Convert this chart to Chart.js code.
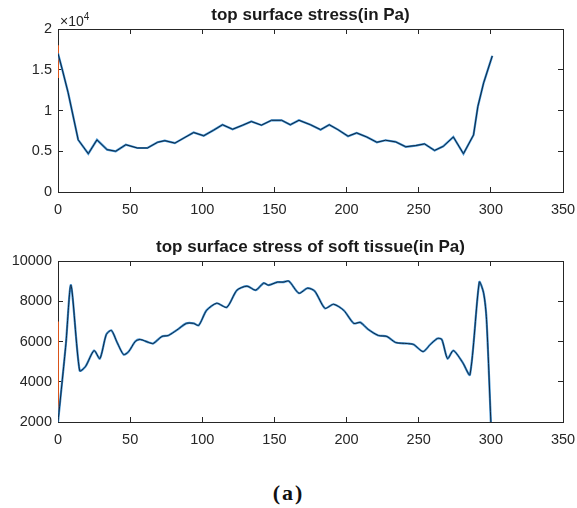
<!DOCTYPE html>
<html>
<head>
<meta charset="utf-8">
<script src="https://cdn.jsdelivr.net/npm/chart.js@4/dist/chart.umd.min.js"></script>
<style>
  html, body { margin: 0; padding: 0; background: #fff; }
  #wrap { position: relative; width: 577px; height: 508px; overflow: hidden; font-family: "Liberation Sans", Arial, sans-serif; color: #262626; }
  canvas { position: absolute; left: 0; }
  .ttl { position: absolute; left: 58px; width: 505px; text-align: center; font-weight: bold; font-size: 17px; line-height: 18px; color: #1a1a1a; }
  #exp { position: absolute; left: 60px; top: 11px; font-size: 14px; color: #262626; }
  #exp sup { font-size: 10px; vertical-align: 6px; }
  #cap { position: absolute; left: 0; width: 577px; top: 480px; text-align: center; font-family: "Liberation Serif", "Times New Roman", serif; font-weight: bold; font-size: 22px; letter-spacing: 2px; color: #111; }
</style>
</head>
<body>
<div id="wrap">
  <canvas id="topChart" width="577" height="225" style="top:0"></canvas>
  <canvas id="botChart" width="577" height="225" style="top:225px"></canvas>
  <div class="ttl" style="top:6px">top surface stress(in Pa)</div>
  <div id="exp">&times;10<sup>4</sup></div>
  <div class="ttl" style="top:238px">top surface stress of soft tissue(in Pa)</div>
  <div id="cap">(a)</div>
</div>
<script>
// ---- data ----
const xTicks = [0, 50, 100, 150, 200, 250, 300, 350];

const topX = [0, 3, 7, 14, 21, 27, 34, 40, 47, 55,
              62, 69, 74, 81, 88, 94, 101, 108, 114, 121,
              128, 134, 141, 148, 155, 161, 167, 175, 182, 188,
              194, 201, 207, 214, 221, 227, 234, 241, 248, 254,
              261, 267, 274, 281, 288, 291, 295, 301];
const topY = [17000, 15000, 12200, 6400, 4700, 6400, 5200, 5000, 5800, 5400,
              5400, 6100, 6300, 6000, 6700, 7300, 6900, 7600, 8250, 7700,
              8200, 8650, 8200, 8800, 8800, 8250, 8800, 8250, 7650, 8250,
              7650, 6850, 7250, 6750, 6100, 6350, 6150, 5550, 5700, 5900,
              5100, 5600, 6750, 4700, 7000, 10500, 13400, 16700];
const topYTicks = [0, 5000, 10000, 15000, 20000];

const botX = [0, 3, 5.5, 9, 15, 19, 25, 29, 33.5, 37,
              41, 45.5, 49, 53.5, 57, 63, 66, 72, 76.5, 82,
              89, 94, 97.5, 103, 110, 117, 124, 131, 137, 142.5,
              146, 152, 156, 160, 167, 173, 178, 185, 191, 198,
              205, 209.5, 215, 222, 228, 234, 242, 246.5, 253, 258,
              263, 266, 270, 274, 280.5, 285.5, 292, 295, 297, 300];
const botY = [2000, 4100, 5900, 8800, 4550, 4750, 5550, 5150, 6350, 6550,
              5950, 5350, 5500, 6000, 6100, 5950, 5900, 6250, 6300, 6550,
              6900, 6900, 6800, 7550, 7900, 7700, 8550, 8750, 8550, 8900,
              8800, 8950, 8950, 9000, 8400, 8650, 8500, 7650, 7850, 7550,
              6900, 6950, 6600, 6300, 6250, 5950, 5900, 5850, 5500, 5850,
              6150, 6100, 5150, 5550, 4950, 4350, 8950, 8400, 7100, 2000];
const botYTicks = [2000, 4000, 6000, 8000, 10000];

// small stray segments of the other columns (visible at the edges)
const topEdgeX = [0, 0];
const topEdgeY = [14000, 18000];
const botEdgeX = [0, 0];
const botEdgeY = [2000, 7000];

function pts(xs, ys) {
    return xs.map((x, i) => ({ x: x, y: ys[i] }));
}

const axisColor = "#262626";
const tickFont = { family: "'Liberation Sans', Arial, sans-serif", size: 14.5 };

// matlab-like axis: box border, ticks pointing inwards
function axis(extra) {
    return Object.assign({
        grid: { display: true, drawOnChartArea: false, drawTicks: true, tickLength: -5, color: axisColor },
        border: { display: true, color: axisColor, width: 1 }
    }, extra);
}

// fixed box size, no extra room for label overhang
function fixSize(w, h) {
    return s => {
        if (w !== null) s.width = w;
        if (h !== null) s.height = h;
        s.paddingLeft = 0; s.paddingRight = 0;
        s.paddingTop = 0; s.paddingBottom = 0;
    };
}

function makeChart(id, data, edge, yMin, yMax, yTickVals, yLabel, padTop, xAxisH, tension) {
    const setX = s => { s.ticks = xTicks.map(v => ({ value: v })); };
    const setY = s => { s.ticks = yTickVals.map(v => ({ value: v })); };
    return new Chart(document.getElementById(id).getContext("2d"), {
        type: "line",
        data: {
            datasets: [
                // dataset 0 is painted last, so the dark core goes first
                { data: data, borderColor: "#0f2740", borderWidth: 1, pointRadius: 0, tension: tension, xAxisID: "x", yAxisID: "y" },
                { data: data.map(p => ({ x: p.x, y: p.y })), borderColor: "#3d8fd1", borderWidth: 2.2, pointRadius: 0, tension: tension, xAxisID: "x", yAxisID: "y" },
                { data: edge, borderColor: "#D95319", borderWidth: 2, pointRadius: 0, tension: 0, xAxisID: "x", yAxisID: "y" }
            ]
        },
        options: {
            responsive: false,
            animation: false,
            events: [],
            layout: { padding: { left: 0, right: 14, top: padTop, bottom: 0 } },
            plugins: { legend: { display: false }, tooltip: { enabled: false } },
            scales: {
                x: axis({
                    type: "linear", position: "bottom", min: 0, max: 350,
                    afterBuildTicks: setX,
                    afterFit: fixSize(null, xAxisH),
                    ticks: { color: axisColor, font: tickFont, padding: 14, maxRotation: 0 }
                }),
                y: axis({
                    type: "linear", position: "left", min: yMin, max: yMax,
                    afterBuildTicks: setY,
                    afterFit: fixSize(58, null),
                    ticks: { color: axisColor, font: tickFont, padding: 11, callback: yLabel }
                }),
                x2: axis({
                    type: "linear", position: "top", min: 0, max: 350,
                    afterBuildTicks: setX,
                    afterFit: fixSize(null, 0),
                    ticks: { display: false }
                }),
                y2: axis({
                    type: "linear", position: "right", min: yMin, max: yMax,
                    afterBuildTicks: setY,
                    afterFit: fixSize(0, null),
                    ticks: { display: false }
                })
            }
        }
    });
}

makeChart("topChart", pts(topX, topY), pts(topEdgeX, topEdgeY),
          0, 20000, topYTicks, v => String(v / 10000), 29, 33, 0);
makeChart("botChart", pts(botX, botY), pts(botEdgeX, botEdgeY),
          2000, 10000, botYTicks, v => String(v), 36, 28, 0.25);
</script>
</body>
</html>
